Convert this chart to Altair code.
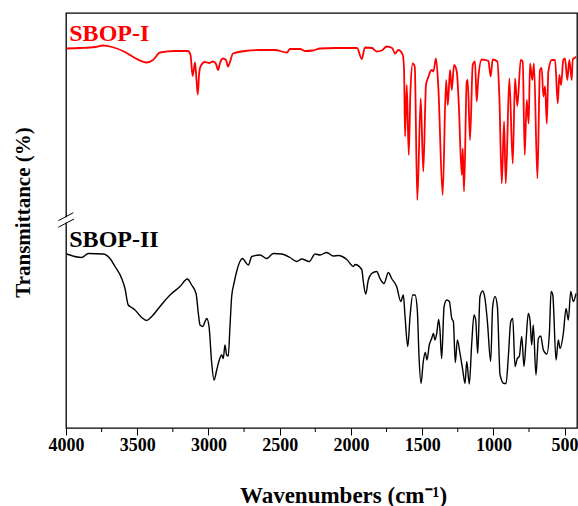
import altair as alt
import pandas as pd

# ---- data (wavenumber cm-1, offset transmittance, arbitrary units)
SBOP_I_WN = [3996, 3902, 3796, 3740, 3677, 3586, 3516, 3434, 3389, 3340, 3235, 3144, 3126, 3111,
             3094, 3084, 3075, 3066, 3056, 3024, 2996, 2968, 2947, 2933, 2919, 2898, 2877, 2863,
             2849, 2828, 2743, 2638, 2533, 2449, 2428, 2357, 2322, 2266, 2217, 2112, 1957, 1924,
             1901, 1852, 1819, 1784, 1749, 1711, 1690, 1667, 1636, 1627, 1620, 1608, 1594, 1582,
             1566, 1552, 1534, 1510, 1492, 1473, 1459, 1433, 1421, 1403, 1386, 1356, 1332, 1320,
             1304, 1292, 1276, 1257, 1243, 1222, 1215, 1206, 1187, 1180, 1164, 1145, 1129, 1117,
             1106, 1082, 1059, 1035, 1019, 1005, 972, 958, 941, 925, 913, 888, 864, 848, 832, 808,
             794, 780, 766, 752, 743, 727, 715, 691, 673, 661, 649, 637, 625, 614, 590, 567, 548,
             537, 525, 509, 497, 481, 467, 450, 443, 434, 420]
SBOP_I_T = [75.9, 76.0, 76.2, 76.5, 76.2, 75.2, 74.0, 73.1, 73.6, 75.1, 75.4, 75.4, 74.6, 70.4,
            73.1, 69.6, 66.7, 70.6, 72.3, 73.2, 73.0, 73.3, 72.8, 71.6, 73.0, 73.9, 73.6, 72.3,
            73.2, 74.9, 75.4, 75.6, 75.6, 75.1, 75.8, 75.8, 75.4, 75.5, 75.9, 76.0, 76.0, 73.8,
            76.1, 76.0, 75.3, 75.5, 76.3, 76.0, 74.9, 75.6, 74.6, 71.6, 58.3, 68.6, 54.6, 67.6,
            72.9, 72.3, 45.6, 65.9, 51.3, 68.6, 70.0, 71.6, 71.3, 73.9, 67.9, 46.6, 69.6, 64.6,
            71.6, 67.6, 72.6, 71.3, 64.9, 50.6, 55.9, 47.3, 69.3, 69.6, 57.6, 72.6, 73.3, 65.3,
            69.9, 73.7, 73.6, 73.4, 70.3, 73.7, 73.3, 66.3, 48.9, 61.3, 48.9, 69.9, 52.9, 69.9, 64.4, 73.6,
            73.3, 54.6, 65.6, 60.9, 72.9, 69.6, 72.9, 49.9, 71.6, 72.0, 66.3, 68.3, 60.9, 71.3, 73.6, 73.6, 64.9,
            70.6, 68.6, 73.6, 73.9, 69.6, 73.6, 69.6, 73.9, 73.9, 74.3]

SBOP_II_WN = [3995, 3890, 3843, 3738, 3691, 3656, 3609, 3586, 3563, 3539, 3516, 3469, 3434, 3398,
              3340, 3270, 3200, 3148, 3118, 3087, 3071, 3059, 3040, 3024, 3012, 2996, 2977, 2961,
              2942, 2924, 2907, 2896, 2884, 2872, 2861, 2849, 2837, 2821, 2802, 2779, 2760, 2743,
              2720, 2696, 2638, 2591, 2545, 2486, 2428, 2380, 2345, 2292, 2252, 2217, 2170, 2124,
              2088, 2029, 1983, 1971, 1924, 1913, 1896, 1878, 1854, 1819, 1796, 1768, 1737, 1714,
              1679, 1650, 1632, 1620, 1601, 1585, 1566, 1550, 1534, 1522, 1508, 1492, 1478, 1466,
              1450, 1433, 1421, 1410, 1398, 1384, 1375, 1363, 1346, 1327, 1309, 1292, 1281, 1267,
              1253, 1234, 1215, 1199, 1187, 1169, 1152, 1136, 1124, 1110, 1094, 1075, 1059, 1042,
              1019, 1005, 988, 972, 953, 925, 911, 895, 878, 864, 848, 832, 818, 801, 785, 771,
              755, 743, 731, 720, 701, 684, 668, 649, 625, 607, 595, 583, 560, 544, 532, 509, 490,
              474, 457, 439, 420]
SBOP_II_T = [34.8, 34.1, 34.9, 34.8, 33.9, 32.3, 29.9, 27.9, 24.6, 24.1, 23.6, 22.1, 21.5, 22.3,
             24.3, 26.6, 28.3, 29.8, 28.6, 26.9, 22.9, 20.6, 20.3, 21.3, 21.9, 20.3, 12.9, 9.6,
             11.6, 13.6, 14.6, 13.9, 16.6, 14.6, 14.4, 20.3, 26.3, 28.9, 31.3, 33.3, 33.9, 33.3,
             32.6, 34.3, 34.6, 33.9, 34.9, 34.8, 34.1, 33.3, 33.8, 33.3, 34.8, 34.6, 35.1, 34.4,
             34.5, 33.7, 32.3, 32.7, 31.7, 29.3, 26.8, 29.6, 30.9, 31.3, 29.9, 28.9, 31.1, 29.9,
             28.3, 25.3, 26.6, 22.3, 16.3, 22.3, 26.6, 26.6, 23.6, 14.3, 8.9, 13.3, 15.1, 13.6,
             16.6, 17.9, 18.9, 17.6, 18.9, 21.7, 19.6, 13.9, 24.3, 25.6, 25.3, 21.9, 21.3, 13.1,
             17.6, 14.9, 11.6, 8.9, 13.3, 8.8, 16.9, 22.6, 21.6, 14.9, 26.3, 27.4, 25.9, 21.3,
             13.3, 24.3, 26.3, 24.3, 10.6, 8.9, 8.9, 14.3, 21.3, 21.9, 12.3, 13.9, 14.3, 18.3, 12.3, 17.3,
             22.9, 21.6, 16.6, 20.6, 10.6, 17.9, 18.4, 15.6, 14.8, 18.9, 27.3, 26.6, 13.6, 17.6, 15.9, 18.9, 23.9,
             21.6, 27.3, 25.3, 26.9]

LABELS = ["SBOP-I", "SBOP-II"]
LABEL_WN = [3977, 3977]
LABEL_T = [77.5, 36.2]
LABEL_COLORS = ["#ff0000", "#000000"]

MAJOR_TICKS = [4000, 3500, 3000, 2500, 2000, 1500, 1000, 500]
MINOR_TICKS = [3750, 3250, 2750, 2250, 1750, 1250, 750]

X_DOMAIN = [4000, 413]
Y_DOMAIN = [0, 83]

FONT = "Liberation Serif"
W, H = 511, 415

df1 = pd.DataFrame({"wn": SBOP_I_WN, "t": SBOP_I_T})
df2 = pd.DataFrame({"wn": SBOP_II_WN, "t": SBOP_II_T})
lab = pd.DataFrame({"label": LABELS, "wn": LABEL_WN, "t": LABEL_T, "color": LABEL_COLORS})
minor = pd.DataFrame({"wn": MINOR_TICKS})

xscale = alt.Scale(domain=X_DOMAIN, nice=False, zero=False)
yscale = alt.Scale(domain=Y_DOMAIN, nice=False, zero=False)

xaxis = alt.Axis(
    title="Wavenumbers (cm⁻¹)", values=MAJOR_TICKS, format="d",
    grid=False, domain=False, ticks=True, tickSize=7, tickColor="black", tickWidth=1,
    labelFont=FONT, labelFontSize=18, labelFontWeight="bold", labelColor="black",
    labelPadding=1, labelFlush=False, labelOverlap=False,
    titleFont=FONT, titleFontSize=23, titleFontWeight="bold", titleColor="black",
    titleX=277, titleY=74, titleBaseline="alphabetic",
)
yaxis = alt.Axis(
    title="Transmittance (%)", labels=False, ticks=False, grid=False, domain=False,
    titleFont=FONT, titleFontSize=21, titleFontWeight="bold", titleColor="black",
    titleX=-33, titleY=199, titleAngle=270, titleBaseline="bottom", titleAlign="center",
)

line1 = alt.Chart(df1).mark_line(color="#ff0000", strokeWidth=1.8, interpolate="monotone").encode(
    x=alt.X("wn:Q", scale=xscale, axis=xaxis),
    y=alt.Y("t:Q", scale=yscale, axis=yaxis),
)
line2 = alt.Chart(df2).mark_line(color="#000000", strokeWidth=1.4, interpolate="monotone").encode(
    x=alt.X("wn:Q", scale=xscale),
    y=alt.Y("t:Q", scale=yscale),
)
text = alt.Chart(lab).mark_text(
    font=FONT, fontSize=24, fontWeight="bold", align="left", baseline="alphabetic"
).encode(
    x=alt.X("wn:Q", scale=xscale),
    y=alt.Y("t:Q", scale=yscale),
    text="label:N",
    color=alt.Color("color:N", scale=None),
)
minor_ticks = alt.Chart(minor).mark_rule(color="black", strokeWidth=1).encode(
    x=alt.X("wn:Q", scale=xscale),
    y=alt.value(H), y2=alt.value(H + 4),
)
# axis-break decoration
gap = alt.Chart(pd.DataFrame({"k": [0]})).mark_rule(color="white", strokeWidth=4).encode(
    x=alt.value(0), y=alt.value(204.3), y2=alt.value(209.6)
)
slash1 = alt.Chart(pd.DataFrame({"k": [0]})).mark_rule(color="black", strokeWidth=1).encode(
    x=alt.value(-7.7), x2=alt.value(7.3), y=alt.value(207.7), y2=alt.value(199.7)
)
slash2 = alt.Chart(pd.DataFrame({"k": [0]})).mark_rule(color="black", strokeWidth=1).encode(
    x=alt.value(-7.7), x2=alt.value(8.0), y=alt.value(214.3), y2=alt.value(206.0)
)

chart = alt.layer(line1, line2, text, minor_ticks, gap, slash1, slash2).properties(
    width=W, height=H,
    autosize=alt.AutoSizeParams(type="none"),
    padding={"left": 66, "top": 13, "right": 1, "bottom": 78},
    background="white",
).configure_view(stroke="black", strokeWidth=1.3)

chart.save("out.html", embed_options={"renderer": "svg", "actions": False})
